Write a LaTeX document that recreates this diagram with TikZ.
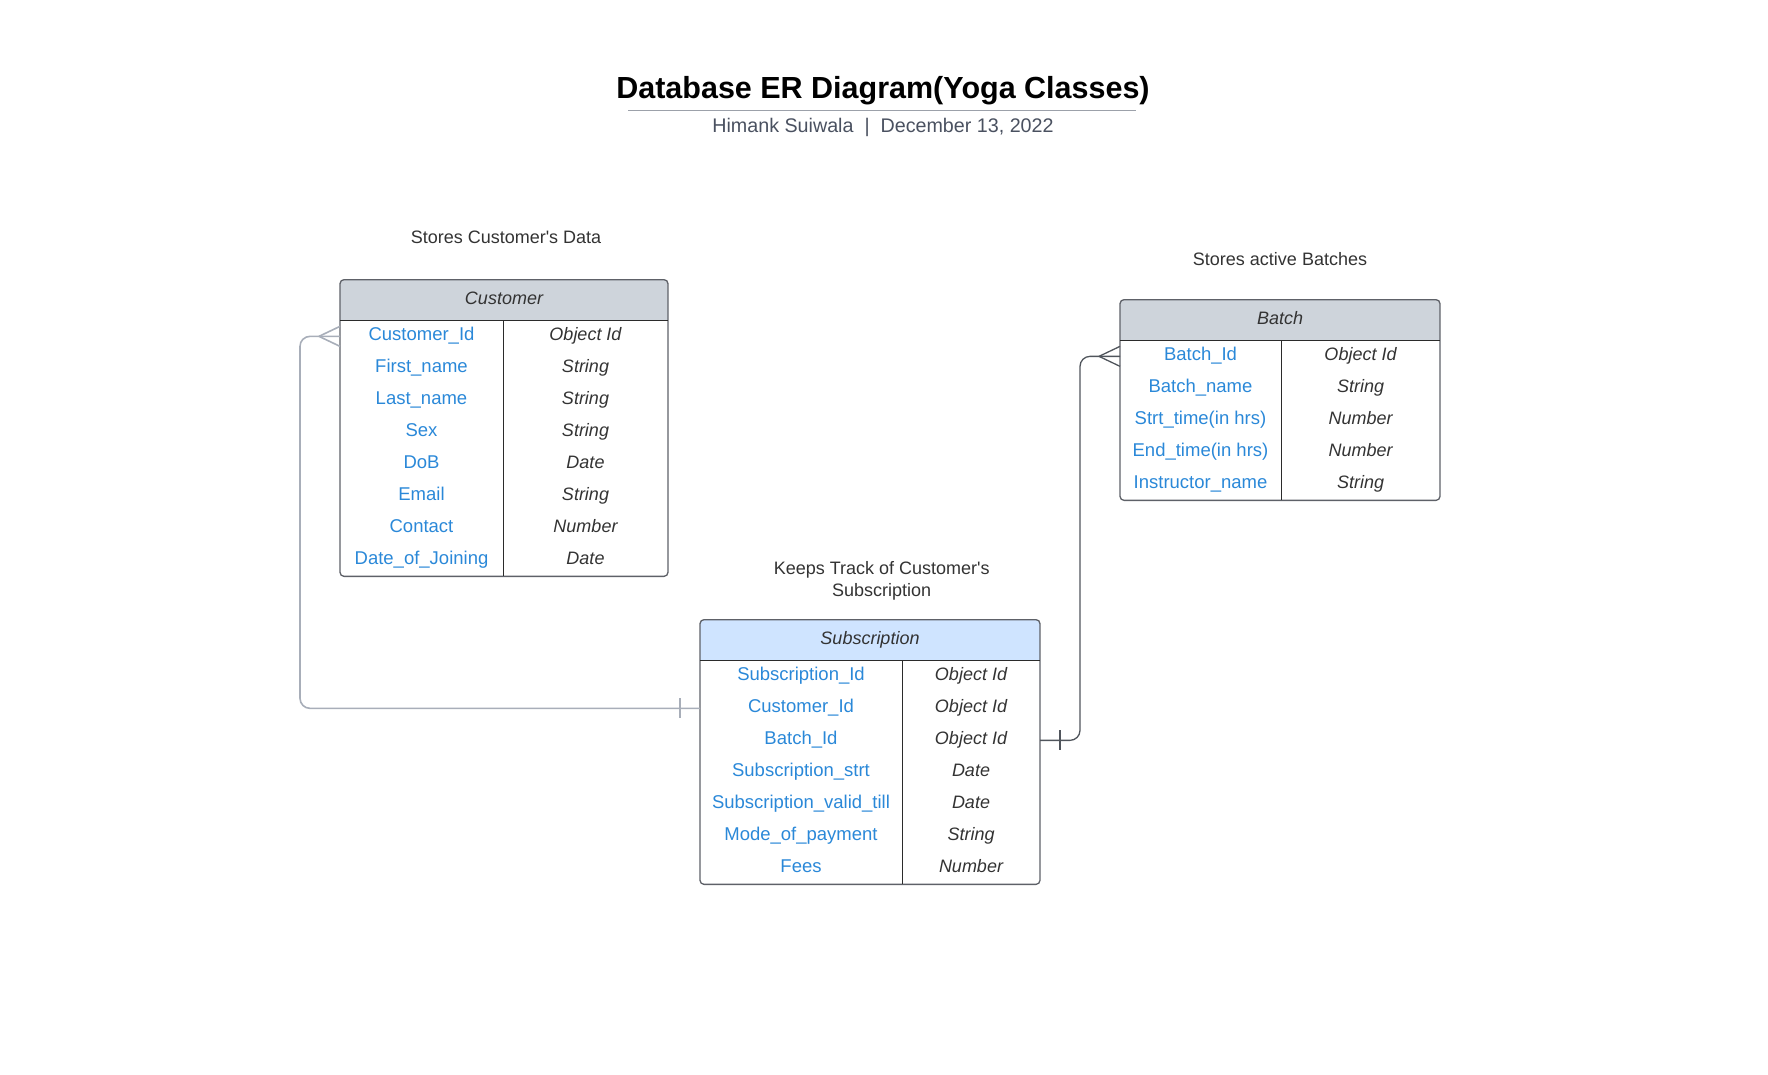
\documentclass[tikz,border=0pt]{standalone}
\usepackage{fontspec}
\setmainfont{Liberation Sans}
\usetikzlibrary{positioning,matrix,backgrounds}
\definecolor{KeyBlue}{HTML}{2A88D8}
\definecolor{TextDark}{HTML}{333333}
\definecolor{HeadGray}{HTML}{CED4DB}
\definecolor{HeadBlue}{HTML}{CFE4FF}
\definecolor{FrameGray}{HTML}{5E6168}
\definecolor{RuleDark}{HTML}{2B2B2B}
\definecolor{RelLight}{HTML}{A8AEB9}
\definecolor{RelDark}{HTML}{50555C}
\definecolor{SubGray}{HTML}{4A5160}
\definecolor{TitleRule}{HTML}{9CA1AA}

\tikzset{
  tblhead/.style={minimum height=40.7pt, inner sep=0pt, outer sep=0pt, text height=13pt, text depth=4pt,
    font=\fontsize{18}{21}\selectfont\itshape, text=TextDark},
  tblbody/.style={matrix of nodes, inner sep=0pt, outer sep=0pt, row sep=0pt, column sep=0pt,
    nodes={minimum height=32pt, inner sep=0pt, outer sep=0pt, text height=13pt, text depth=4pt}},
  keycell/.style={text=KeyBlue, font=\fontsize{18.5}{21}\selectfont},
  typecell/.style={text=TextDark, font=\fontsize{18}{21}\selectfont\itshape},
  tblframe/.style={draw=FrameGray, line width=1.3pt, rounded corners=4pt},
  tblrule/.style={draw=RuleDark, line width=1pt},
  custrel/.style={draw=RelLight, line width=1.6pt},
  batchrel/.style={draw=RelDark, line width=1.3pt},
  notetext/.style={text=TextDark, align=center}
}

\begin{document}
\begin{tikzpicture}[x=1pt, y=-1pt, every node/.style={font=\fontsize{18}{21}\selectfont}]
\useasboundingbox (0,0) rectangle (1768,1074);

% title block
\node[font=\fontsize{30.5}{34}\selectfont\bfseries] (title) at (883,91) {Database ER Diagram(Yoga Classes)};
\draw[draw=TitleRule, line width=1.6pt] (628,110.5) -- (1135.5,110.5);
\node[text=SubGray, font=\fontsize{19.7}{23}\selectfont] (byline) at (883,127) {Himank Suiwala~~|~~December 13, 2022};

% notes
\node[notetext] (custNote) at (506,237) {Stores Customer\textquotesingle s Data};
\node[notetext] (batchNote) at (1280,259) {Stores active Batches};
\node[notetext, font=\fontsize{18}{21.5}\selectfont] (subNote) at (881.7,581) {Keeps Track of Customer\textquotesingle s\\Subscription};

% Customer table
\node[tblhead, minimum width=328pt] (customer) at (504,300) {Customer};
\matrix[tblbody, below=0pt of customer,
  column 1/.style={nodes={keycell, minimum width=163pt}},
  column 2/.style={nodes={typecell, minimum width=165pt}}] (custBody) {
Customer\_Id & Object Id\\
First\_name & String\\
Last\_name & String\\
Sex & String\\
DoB & Date\\
Email & String\\
Contact & Number\\
Date\_of\_Joining & Date\\
};
\begin{pgfonlayer}{background}
\begin{scope}
\clip[rounded corners=4pt] (customer.north west) rectangle (custBody.south east);
\fill[HeadGray] (customer.north west) rectangle (customer.south east);
\end{scope}
\end{pgfonlayer}
\draw[tblframe] (customer.north west) rectangle (custBody.south east);
\draw[tblrule] (customer.south west) -- (customer.south east);
\draw[tblrule] (custBody-1-2.north west) -- (custBody-8-2.south west);

% Batch table
\node[tblhead, minimum width=320pt] (batch) at (1280,320) {Batch};
\matrix[tblbody, below=0pt of batch,
  column 1/.style={nodes={keycell, minimum width=161pt}},
  column 2/.style={nodes={typecell, minimum width=159pt}}] (batchBody) {
Batch\_Id & Object Id\\
Batch\_name & String\\
Strt\_time(in hrs) & Number\\
End\_time(in hrs) & Number\\
Instructor\_name & String\\
};
\begin{pgfonlayer}{background}
\begin{scope}
\clip[rounded corners=4pt] (batch.north west) rectangle (batchBody.south east);
\fill[HeadGray] (batch.north west) rectangle (batch.south east);
\end{scope}
\end{pgfonlayer}
\draw[tblframe] (batch.north west) rectangle (batchBody.south east);
\draw[tblrule] (batch.south west) -- (batch.south east);
\draw[tblrule] (batchBody-1-2.north west) -- (batchBody-5-2.south west);

% Subscription table
\node[tblhead, minimum width=340pt] (subscription) at (870,640) {Subscription};
\matrix[tblbody, below=0pt of subscription,
  column 1/.style={nodes={keycell, minimum width=202pt}},
  column 2/.style={nodes={typecell, minimum width=138pt}}] (subBody) {
Subscription\_Id & Object Id\\
Customer\_Id & Object Id\\
Batch\_Id & Object Id\\
Subscription\_strt & Date\\
Subscription\_valid\_till & Date\\
Mode\_of\_payment & String\\
Fees & Number\\
};
\begin{pgfonlayer}{background}
\begin{scope}
\clip[rounded corners=4pt] (subscription.north west) rectangle (subBody.south east);
\fill[HeadBlue] (subscription.north west) rectangle (subscription.south east);
\end{scope}
\end{pgfonlayer}
\draw[tblframe] (subscription.north west) rectangle (subBody.south east);
\draw[tblrule] (subscription.south west) -- (subscription.south east);
\draw[tblrule] (subBody-1-2.north west) -- (subBody-7-2.south west);

% relations
\coordinate (custLane) at (300,0);
\coordinate (batchLane) at (1080,0);
\draw[custrel, rounded corners=10pt] (subBody-2-1.west) -- (subBody-2-1.west -| custLane) |- (custBody-1-1.west);
\draw[custrel] ([xshift=-21pt]custBody-1-1.west) -- ([yshift=10pt]custBody-1-1.west)
  ([xshift=-21pt]custBody-1-1.west) -- ([yshift=-10pt]custBody-1-1.west);
\draw[custrel] ([xshift=-20pt,yshift=10pt]subBody-2-1.west) -- ([xshift=-20pt,yshift=-10pt]subBody-2-1.west);

\draw[batchrel, rounded corners=10pt] (subBody-3-2.east) -- (subBody-3-2.east -| batchLane) |- (batchBody-1-1.west);
\draw[batchrel] ([xshift=-21pt]batchBody-1-1.west) -- ([yshift=10pt]batchBody-1-1.west)
  ([xshift=-21pt]batchBody-1-1.west) -- ([yshift=-10pt]batchBody-1-1.west);
\draw[batchrel] ([xshift=20pt,yshift=10pt]subBody-3-2.east) -- ([xshift=20pt,yshift=-10pt]subBody-3-2.east);
\end{tikzpicture}
\end{document}
